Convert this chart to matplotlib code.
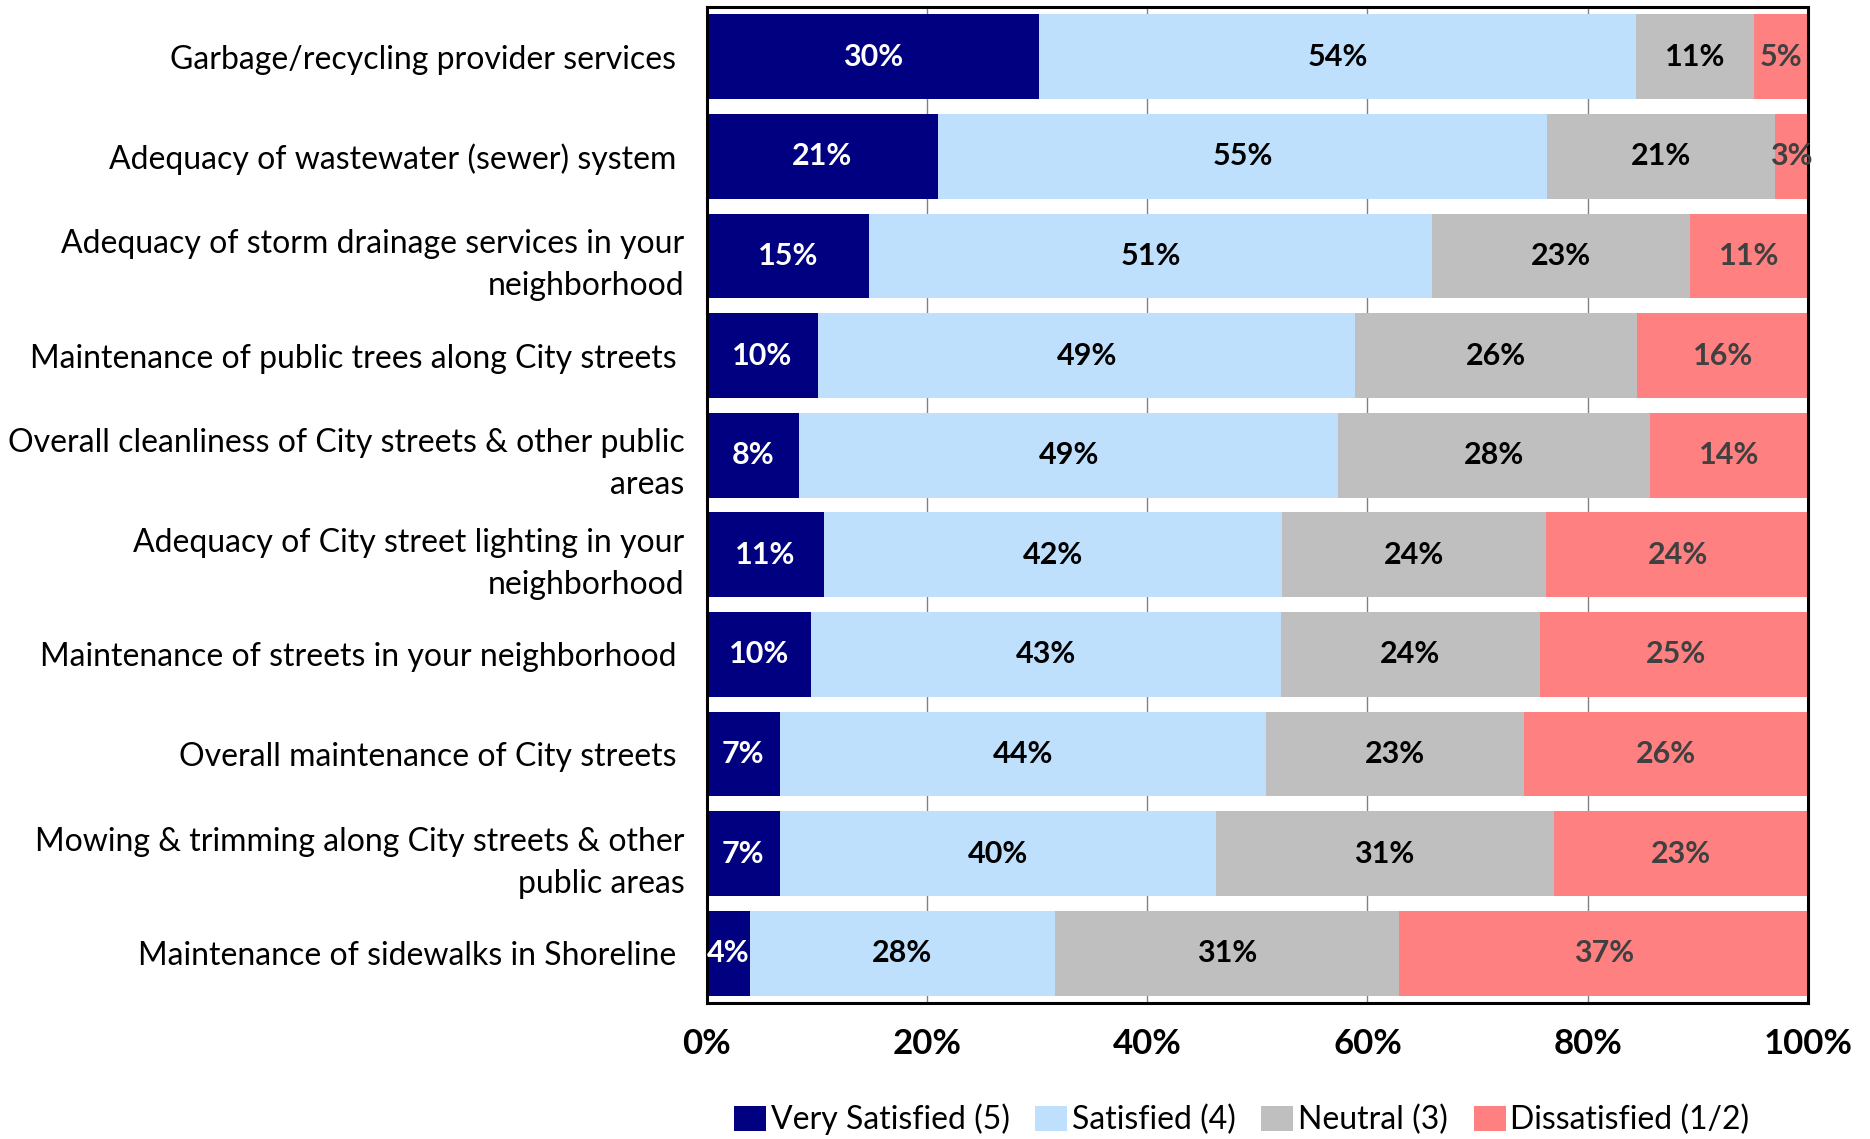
import matplotlib.pyplot as plt
from matplotlib.patches import Patch

plt.rcParams["font.family"] = ["Lato", "DejaVu Sans"]

# Survey items, top to bottom
categories = [
    "Garbage/recycling provider services ",
    "Adequacy of wastewater (sewer) system ",
    "Adequacy of storm drainage services in your\nneighborhood",
    "Maintenance of public trees along City streets ",
    "Overall cleanliness of City streets & other public\nareas",
    "Adequacy of City street lighting in your\nneighborhood",
    "Maintenance of streets in your neighborhood ",
    "Overall maintenance of City streets ",
    "Mowing & trimming along City streets & other\npublic areas",
    "Maintenance of sidewalks in Shoreline ",
]

# Percent of respondents
very_satisfied = [30.2, 21.0, 14.7, 10.1, 8.4, 10.6, 9.5, 6.6, 6.6, 3.9]
satisfied = [54.2, 55.3, 51.2, 48.8, 48.9, 41.6, 42.6, 44.2, 39.6, 27.7]
neutral = [10.7, 20.7, 23.4, 25.6, 28.4, 24.0, 23.6, 23.4, 30.7, 31.3]
dissatisfied = [4.9, 3.0, 10.7, 15.6, 14.3, 24.0, 24.6, 25.8, 23.1, 37.1]

series_names = ["Very Satisfied (5)", "Satisfied (4)", "Neutral (3)", "Dissatisfied (1/2)"]
colors = ["#000080", "#BFE0FC", "#BFBFBF", "#FF8080"]
text_colors = ["white", "black", "black", "#404040"]

xticks = [0, 20, 40, 60, 80, 100]
xtick_labels = ["0%", "20%", "40%", "60%", "80%", "100%"]

fig = plt.figure(figsize=(18.7, 11.39), dpi=100)
ax = fig.add_axes([0.378, 0.1194, 0.5888, 0.8745])

y = list(range(len(categories)))
left = [0.0] * len(categories)
for vals, name, col, tcol in zip([very_satisfied, satisfied, neutral, dissatisfied],
                                 series_names, colors, text_colors):
    bars = ax.barh(y, vals, left=left, height=0.85, color=col, label=name, zorder=2)
    for b, v in zip(bars, vals):
        ax.text(b.get_x() + b.get_width() / 2, b.get_y() + b.get_height() / 2,
                f"{v:.0f}%", ha="center", va="center", color=tcol,
                fontsize=22, fontweight="bold", zorder=3)
    left = [l + v for l, v in zip(left, vals)]

ax.set_xlim(0, 100)
ax.set_ylim(len(categories) - 0.5, -0.5)
ax.set_yticks(y)
ax.set_yticklabels(categories, fontsize=23, linespacing=1.5)
ax.set_xticks(xticks)
ax.set_xticklabels(xtick_labels, fontsize=25, fontweight="bold")
ax.tick_params(axis="y", length=0, pad=16)
ax.tick_params(axis="x", length=0, pad=18)
ax.grid(axis="x", color="#808080", linewidth=1, zorder=0)
for s in ax.spines.values():
    s.set_linewidth(2.2)
    s.set_color("black")

handles = [Patch(facecolor=c, label=n) for c, n in zip(colors, series_names)]
fig.legend(handles=handles, loc="center", bbox_to_anchor=(0.664, 0.017), ncol=4,
           frameon=False, fontsize=23, handlelength=1.0, handleheight=0.8,
           handletextpad=0.15, columnspacing=0.8)

fig.savefig("out.png", dpi=100)
